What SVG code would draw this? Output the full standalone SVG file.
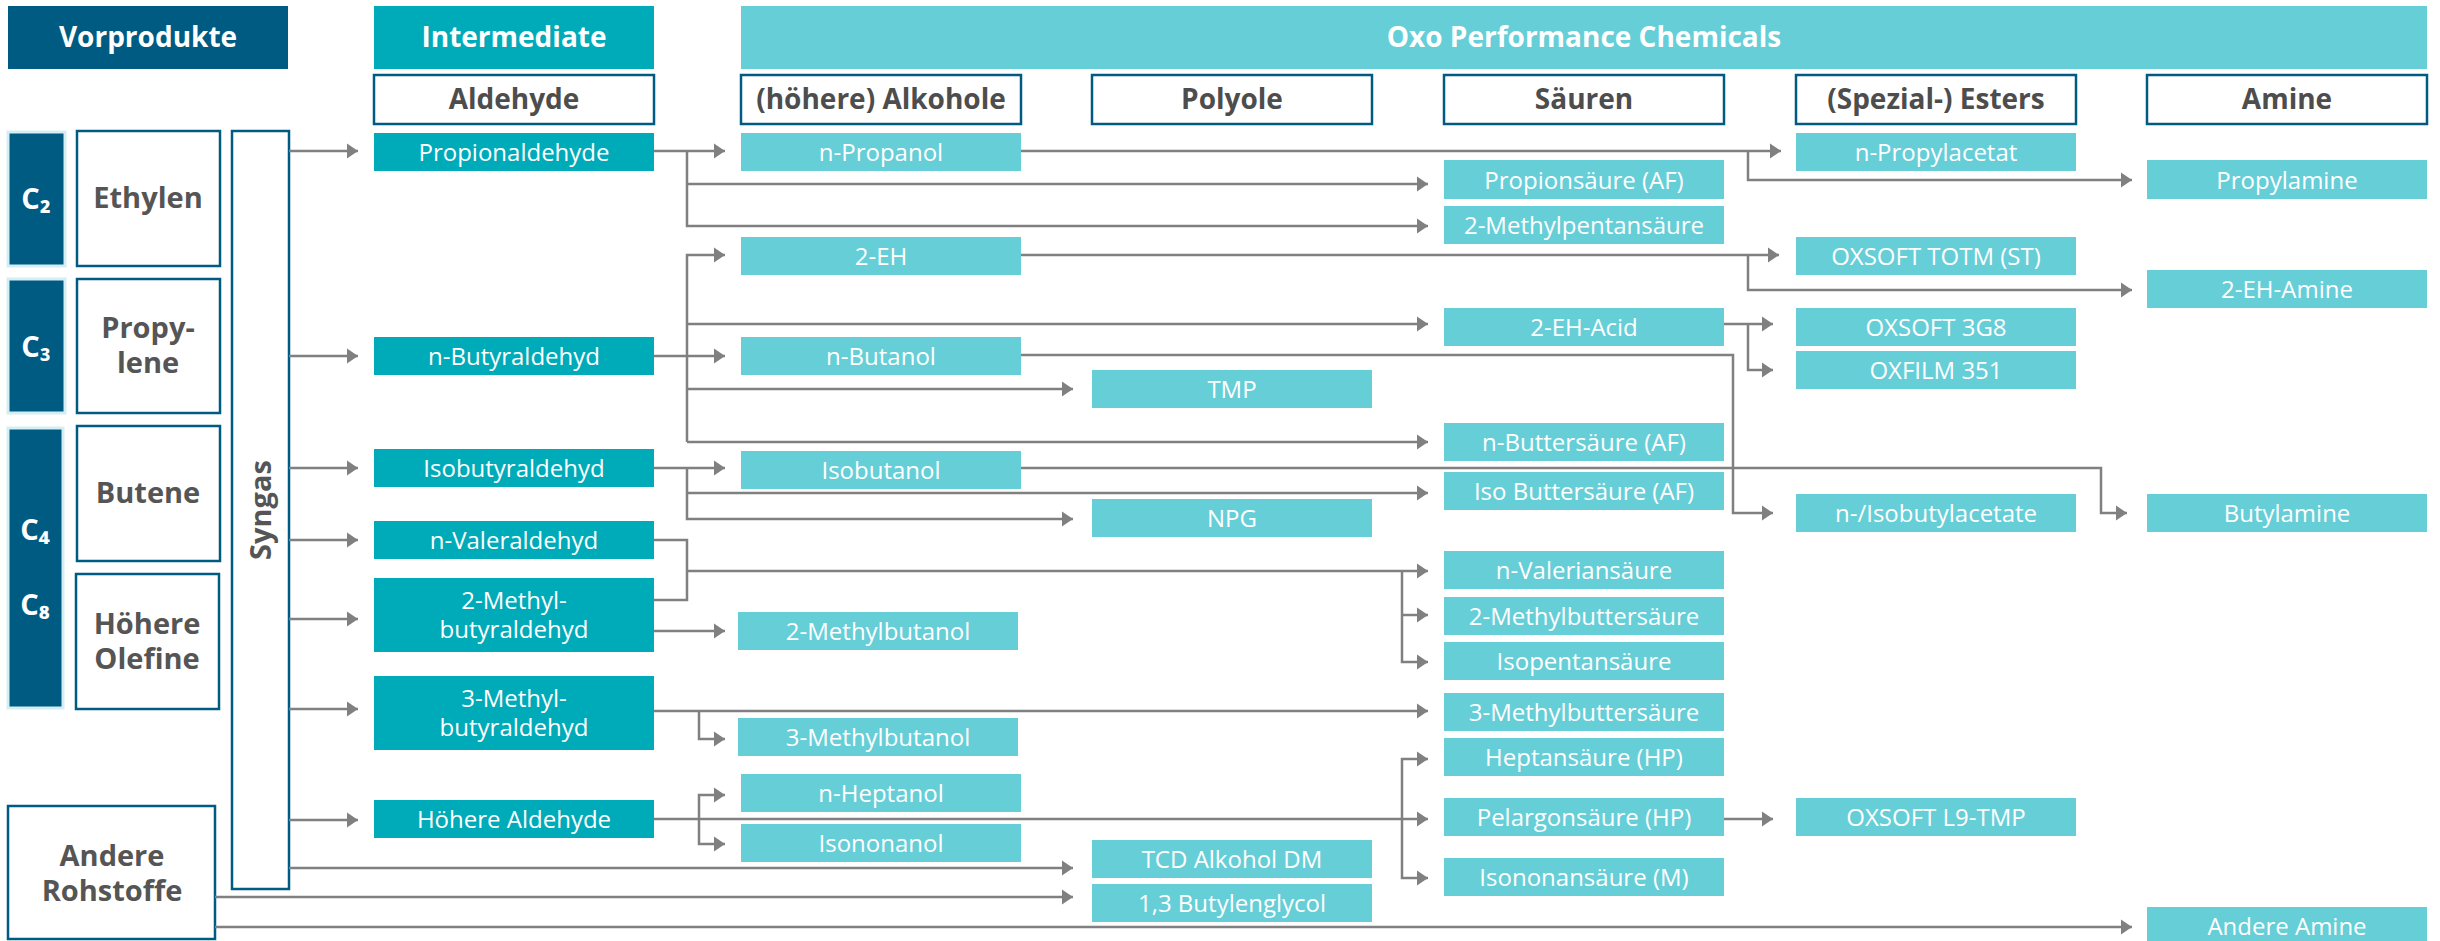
<svg xmlns="http://www.w3.org/2000/svg" width="2440" height="941" viewBox="0 0 2440 941">
<defs>
<style>
text{font-family:"Open Sans","Noto Sans",sans-serif;text-anchor:middle}
.hd{font-size:28px;font-weight:700;fill:#fff}
.sh rect{fill:#fff;stroke:#005b82;stroke-width:2.5}
.sh text{font-size:28px;font-weight:700;fill:#4d4d4d}
.src rect{fill:#fff;stroke:#005b82;stroke-width:2.5}
.src text{font-size:29px;font-weight:700;fill:#555}
.c rect{fill:#005b82;stroke:#d3eff3;stroke-width:3}
.c text{font-size:29px;font-weight:700;fill:#fff}
.i rect{fill:#00abb9}
.p rect{fill:#66ced7}
.i text,.p text{font-size:24px;fill:#fff}
#connectors path{fill:none;stroke:#808080;stroke-width:2.5}
</style>
<marker id="ar" markerUnits="userSpaceOnUse" markerWidth="12" markerHeight="16" refX="11" refY="8" orient="auto">
<path d="M0,0.5 L11,8 L0,15.5 z" fill="#808080"/>
</marker>
</defs>
<rect width="2440" height="941" fill="#fff"/>

<!-- headers -->
<g id="h-vorprodukte"><rect x="8" y="6" width="280" height="63" fill="#005b82"/><text class="hd" x="148" y="47">Vorprodukte</text></g>
<g id="h-intermediate"><rect x="374" y="6" width="280" height="63" fill="#00abb9"/><text class="hd" x="514" y="47">Intermediate</text></g>
<g id="h-oxo"><rect x="741" y="6" width="1686" height="63" fill="#66ced7"/><text class="hd" x="1584" y="47">Oxo Performance Chemicals</text></g>

<g id="sh-aldehyde" class="sh"><rect x="374" y="75" width="280" height="49"/><text x="514" y="109">Aldehyde</text></g>
<g id="sh-alkohole" class="sh"><rect x="741" y="75" width="280" height="49"/><text x="881" y="109">(höhere) Alkohole</text></g>
<g id="sh-polyole" class="sh"><rect x="1092" y="75" width="280" height="49"/><text x="1232" y="109">Polyole</text></g>
<g id="sh-saeuren" class="sh"><rect x="1444" y="75" width="280" height="49"/><text x="1584" y="109">Säuren</text></g>
<g id="sh-esters" class="sh"><rect x="1796" y="75" width="280" height="49"/><text x="1936" y="109">(Spezial-) Esters</text></g>
<g id="sh-amine" class="sh"><rect x="2147" y="75" width="280" height="49"/><text x="2287" y="109">Amine</text></g>

<!-- left column -->
<g id="c2" class="c"><rect x="8" y="132" width="57" height="134"/><text x="36" y="209">C₂</text></g>
<g id="c3" class="c"><rect x="8" y="279" width="57" height="134"/><text x="36" y="357">C₃</text></g>
<g id="c4c8" class="c"><rect x="8" y="428" width="55" height="280"/><text x="35" y="540">C₄</text><text x="35" y="615">C₈</text></g>
<g id="ethylen" class="src"><rect x="77" y="131" width="143" height="135"/><text x="148" y="208">Ethylen</text></g>
<g id="propylene" class="src"><rect x="77" y="279" width="143" height="134"/><text x="148" y="338">Propy-</text><text x="148" y="373">lene</text></g>
<g id="butene" class="src"><rect x="77" y="426" width="143" height="135"/><text x="148" y="503">Butene</text></g>
<g id="olefine" class="src"><rect x="76" y="574" width="143" height="135"/><text x="147" y="634">Höhere</text><text x="147" y="669">Olefine</text></g>
<g id="andere-rohstoffe" class="src"><rect x="8" y="806" width="207" height="133"/><text x="112" y="866">Andere</text><text x="112" y="901">Rohstoffe</text></g>
<g id="syngas" class="src"><rect x="232" y="131" width="57" height="758"/><text x="0" y="0" transform="translate(271,510) rotate(-90)">Syngas</text></g>

<!-- intermediates -->
<g id="propionaldehyde" class="i"><rect x="374" y="133" width="280" height="38"/><text x="514" y="161">Propionaldehyde</text></g>
<g id="n-butyraldehyd" class="i"><rect x="374" y="337" width="280" height="38"/><text x="514" y="365">n-Butyraldehyd</text></g>
<g id="isobutyraldehyd" class="i"><rect x="374" y="449" width="280" height="38"/><text x="514" y="477">Isobutyraldehyd</text></g>
<g id="n-valeraldehyd" class="i"><rect x="374" y="521" width="280" height="38"/><text x="514" y="549">n-Valeraldehyd</text></g>
<g id="2-methylbutyraldehyd" class="i"><rect x="374" y="578" width="280" height="74"/><text x="514" y="609">2-Methyl-</text><text x="514" y="638">butyraldehyd</text></g>
<g id="3-methylbutyraldehyd" class="i"><rect x="374" y="676" width="280" height="74"/><text x="514" y="707">3-Methyl-</text><text x="514" y="736">butyraldehyd</text></g>
<g id="hoehere-aldehyde" class="i"><rect x="374" y="800" width="280" height="38"/><text x="514" y="828">Höhere Aldehyde</text></g>

<!-- alkohole -->
<g id="n-propanol" class="p"><rect x="741" y="133" width="280" height="38"/><text x="881" y="161">n-Propanol</text></g>
<g id="2-eh" class="p"><rect x="741" y="237" width="280" height="38"/><text x="881" y="265">2-EH</text></g>
<g id="n-butanol" class="p"><rect x="741" y="337" width="280" height="38"/><text x="881" y="365">n-Butanol</text></g>
<g id="isobutanol" class="p"><rect x="741" y="451" width="280" height="38"/><text x="881" y="479">Isobutanol</text></g>
<g id="2-methylbutanol" class="p"><rect x="738" y="612" width="280" height="38"/><text x="878" y="640">2-Methylbutanol</text></g>
<g id="3-methylbutanol" class="p"><rect x="738" y="718" width="280" height="38"/><text x="878" y="746">3-Methylbutanol</text></g>
<g id="n-heptanol" class="p"><rect x="741" y="774" width="280" height="38"/><text x="881" y="802">n-Heptanol</text></g>
<g id="isononanol" class="p"><rect x="741" y="824" width="280" height="38"/><text x="881" y="852">Isononanol</text></g>

<!-- polyole -->
<g id="tmp" class="p"><rect x="1092" y="370" width="280" height="38"/><text x="1232" y="398">TMP</text></g>
<g id="npg" class="p"><rect x="1092" y="499" width="280" height="38"/><text x="1232" y="527">NPG</text></g>
<g id="tcd-alkohol-dm" class="p"><rect x="1092" y="840" width="280" height="38"/><text x="1232" y="868">TCD Alkohol DM</text></g>
<g id="butylenglycol" class="p"><rect x="1092" y="884" width="280" height="38"/><text x="1232" y="912">1,3 Butylenglycol</text></g>

<!-- saeuren -->
<g id="propionsaeure" class="p"><rect x="1444" y="160" width="280" height="39"/><text x="1584" y="189">Propionsäure (AF)</text></g>
<g id="2-methylpentansaeure" class="p"><rect x="1444" y="206" width="280" height="38"/><text x="1584" y="234">2-Methylpentansäure</text></g>
<g id="2-eh-acid" class="p"><rect x="1444" y="308" width="280" height="38"/><text x="1584" y="336">2-EH-Acid</text></g>
<g id="n-buttersaeure" class="p"><rect x="1444" y="423" width="280" height="38"/><text x="1584" y="451">n-Buttersäure (AF)</text></g>
<g id="iso-buttersaeure" class="p"><rect x="1444" y="472" width="280" height="38"/><text x="1584" y="500">Iso Buttersäure (AF)</text></g>
<g id="n-valeriansaeure" class="p"><rect x="1444" y="551" width="280" height="38"/><text x="1584" y="579">n-Valeriansäure</text></g>
<g id="2-methylbuttersaeure" class="p"><rect x="1444" y="597" width="280" height="38"/><text x="1584" y="625">2-Methylbuttersäure</text></g>
<g id="isopentansaeure" class="p"><rect x="1444" y="642" width="280" height="38"/><text x="1584" y="670">Isopentansäure</text></g>
<g id="3-methylbuttersaeure" class="p"><rect x="1444" y="693" width="280" height="38"/><text x="1584" y="721">3-Methylbuttersäure</text></g>
<g id="heptansaeure" class="p"><rect x="1444" y="738" width="280" height="38"/><text x="1584" y="766">Heptansäure (HP)</text></g>
<g id="pelargonsaeure" class="p"><rect x="1444" y="798" width="280" height="38"/><text x="1584" y="826">Pelargonsäure (HP)</text></g>
<g id="isononansaeure" class="p"><rect x="1444" y="858" width="280" height="38"/><text x="1584" y="886">Isononansäure (M)</text></g>

<!-- esters -->
<g id="n-propylacetat" class="p"><rect x="1796" y="133" width="280" height="38"/><text x="1936" y="161">n-Propylacetat</text></g>
<g id="oxsoft-totm" class="p"><rect x="1796" y="237" width="280" height="38"/><text x="1936" y="265">OXSOFT TOTM (ST)</text></g>
<g id="oxsoft-3g8" class="p"><rect x="1796" y="308" width="280" height="38"/><text x="1936" y="336">OXSOFT 3G8</text></g>
<g id="oxfilm-351" class="p"><rect x="1796" y="351" width="280" height="38"/><text x="1936" y="379">OXFILM 351</text></g>
<g id="isobutylacetate" class="p"><rect x="1796" y="494" width="280" height="38"/><text x="1936" y="522">n-/Isobutylacetate</text></g>
<g id="oxsoft-l9-tmp" class="p"><rect x="1796" y="798" width="280" height="38"/><text x="1936" y="826">OXSOFT L9-TMP</text></g>

<!-- amine -->
<g id="propylamine" class="p"><rect x="2147" y="160" width="280" height="39"/><text x="2287" y="189">Propylamine</text></g>
<g id="2-eh-amine" class="p"><rect x="2147" y="270" width="280" height="38"/><text x="2287" y="298">2-EH-Amine</text></g>
<g id="butylamine" class="p"><rect x="2147" y="494" width="280" height="38"/><text x="2287" y="522">Butylamine</text></g>
<g id="andere-amine" class="p"><rect x="2147" y="907" width="280" height="38"/><text x="2287" y="935">Andere Amine</text></g>

<!-- connectors -->
<g id="connectors">
<path d="M289,151H358" marker-end="url(#ar)"/>
<path d="M289,356H358" marker-end="url(#ar)"/>
<path d="M289,468H358" marker-end="url(#ar)"/>
<path d="M289,540H358" marker-end="url(#ar)"/>
<path d="M289,619H358" marker-end="url(#ar)"/>
<path d="M289,709H358" marker-end="url(#ar)"/>
<path d="M289,820H358" marker-end="url(#ar)"/>
<path d="M289,868H1073" marker-end="url(#ar)"/>
<path d="M215,897H1073" marker-end="url(#ar)"/>
<path d="M215,927H2132" marker-end="url(#ar)"/>

<path d="M654,151H725" marker-end="url(#ar)"/>
<path d="M687,151V226H1428" marker-end="url(#ar)"/>
<path d="M687,184H1428" marker-end="url(#ar)"/>

<path d="M654,356H725" marker-end="url(#ar)"/>
<path d="M687,442V255H725" marker-end="url(#ar)"/>
<path d="M687,324H1428" marker-end="url(#ar)"/>
<path d="M687,389H1073" marker-end="url(#ar)"/>
<path d="M687,442H1428" marker-end="url(#ar)"/>

<path d="M654,468H725" marker-end="url(#ar)"/>
<path d="M687,468V519H1073" marker-end="url(#ar)"/>
<path d="M687,493H1428" marker-end="url(#ar)"/>

<path d="M654,540H687V600H654"/>
<path d="M687,571H1428" marker-end="url(#ar)"/>
<path d="M1402,571V662H1428" marker-end="url(#ar)"/>
<path d="M1402,615H1428" marker-end="url(#ar)"/>
<path d="M654,631H725" marker-end="url(#ar)"/>

<path d="M654,711H1428" marker-end="url(#ar)"/>
<path d="M699,711V739H725" marker-end="url(#ar)"/>

<path d="M654,819H1428" marker-end="url(#ar)"/>
<path d="M699,819V795H725" marker-end="url(#ar)"/>
<path d="M699,819V844H725" marker-end="url(#ar)"/>
<path d="M1402,819V759H1428" marker-end="url(#ar)"/>
<path d="M1402,819V878H1428" marker-end="url(#ar)"/>
<path d="M1724,819H1773" marker-end="url(#ar)"/>

<path d="M1021,151H1781" marker-end="url(#ar)"/>
<path d="M1748,151V180H2132" marker-end="url(#ar)"/>
<path d="M1021,255H1779" marker-end="url(#ar)"/>
<path d="M1748,255V290H2132" marker-end="url(#ar)"/>
<path d="M1724,324H1773" marker-end="url(#ar)"/>
<path d="M1748,324V370H1773" marker-end="url(#ar)"/>
<path d="M1021,355H1733V513H1773" marker-end="url(#ar)"/>
<path d="M1021,468H2101V513H2127" marker-end="url(#ar)"/>
</g>
</svg>
